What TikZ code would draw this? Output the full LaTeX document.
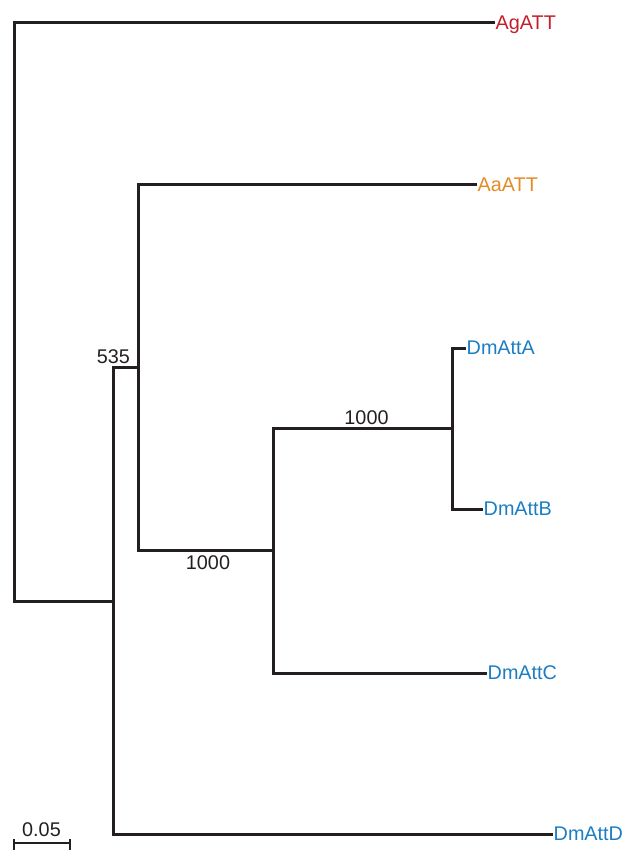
\documentclass[tikz,border=0pt]{standalone}
\usepackage{fontspec}
\setmainfont{Liberation Sans}
\definecolor{agred}{HTML}{C41E2A}
\definecolor{aaorange}{HTML}{E38B25}
\definecolor{dmblue}{HTML}{1B7DC2}
\definecolor{branch}{HTML}{231F20}
\begin{document}
\begin{tikzpicture}[x=1pt,y=-1pt,
  br/.style={draw=branch,line width=3pt,line join=miter,line cap=rect},
  lab/.style={anchor=base west,inner sep=0pt,xshift=2.5pt,yshift=-6.5pt,font=\fontsize{19.8}{22}\selectfont},
  num/.style={inner sep=0pt,font=\fontsize{19.8}{22}\selectfont,text=branch}]
\useasboundingbox (0,0) rectangle (630,850);
% internal nodes
\coordinate (r) at (14,601);
\coordinate (n1) at (113,601);
\coordinate (n2) at (138,367);
\coordinate (n3) at (273,550);
\coordinate (n4) at (452,428);
% tips
\coordinate (tAg) at (493,23);
\coordinate (tAa) at (475,185);
\coordinate (tA) at (464,348);
\coordinate (tB) at (481,509);
\coordinate (tC) at (485,673);
\coordinate (tD) at (551,834);
% branches
\draw[br] (tAg) -| (r) -- (n1);
\draw[br] (n2) -| (n1) |- (tD);
\draw[br] (tAa) -| (n2) |- (n3);
\draw[br] (n4) -| (n3) |- (tC);
\draw[br] (tA) -| (n4) |- (tB);
% tip labels
\node[lab,text=agred] (lAg) at (tAg) {AgATT};
\node[lab,text=aaorange] (lAa) at (tAa) {AaATT};
\node[lab,text=dmblue] (lA) at (tA) {DmAttA};
\node[lab,text=dmblue] (lB) at (tB) {DmAttB};
\node[lab,text=dmblue] (lC) at (tC) {DmAttC};
\node[lab,text=dmblue] (lD) at (tD) {DmAttD};
% bootstrap values
\node[num,anchor=base east] (b1) at (130,363) {535};
\node[num,anchor=base] (b2) at (366.5,424) {1000};
\node[num,anchor=base] (b3) at (208,569) {1000};
% scale bar
\coordinate (s1) at (14,843);
\coordinate (s2) at (70,843);
\draw[draw=branch,line width=2.4pt] (s1) -- (s2);
\draw[draw=branch,line width=2.4pt] ([yshift=4pt]s1) -- ([yshift=-7pt]s1);
\draw[draw=branch,line width=2.4pt] ([yshift=4pt]s2) -- ([yshift=-7pt]s2);
\node[num,anchor=base] (sl) at (41.5,836) {0.05};
\end{tikzpicture}
\end{document}
